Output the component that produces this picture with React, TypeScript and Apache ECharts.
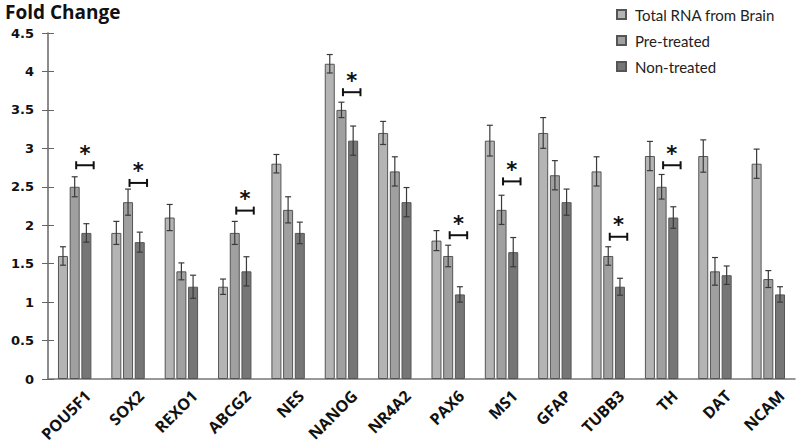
import React, { useEffect, useRef } from "react";
import * as echarts from "echarts";

const categories = ["POU5F1", "SOX2", "REXO1", "ABCG2", "NES", "NANOG", "NR4A2", "PAX6", "MS1", "GFAP", "TUBB3", "TH", "DAT", "NCAM"];
const seriesNames = ["Total RNA from Brain", "Pre-treated", "Non-treated"];
const totalRNA = [1.6, 1.9, 2.1, 1.2, 2.8, 4.1, 3.2, 1.8, 3.1, 3.2, 2.7, 2.9, 2.9, 2.8];
const preTreated = [2.5, 2.3, 1.4, 1.9, 2.2, 3.5, 2.7, 1.6, 2.2, 2.65, 1.6, 2.5, 1.4, 1.3];
const nonTreated = [1.9, 1.78, 1.2, 1.4, 1.9, 3.1, 2.3, 1.1, 1.65, 2.3, 1.2, 2.1, 1.35, 1.1];
const totalRNAErr = [0.12, 0.15, 0.17, 0.1, 0.12, 0.12, 0.15, 0.13, 0.2, 0.2, 0.19, 0.19, 0.21, 0.19];
const preTreatedErr = [0.13, 0.17, 0.11, 0.15, 0.17, 0.1, 0.19, 0.14, 0.19, 0.19, 0.12, 0.16, 0.18, 0.11];
const nonTreatedErr = [0.12, 0.13, 0.15, 0.19, 0.14, 0.19, 0.19, 0.1, 0.19, 0.17, 0.11, 0.14, 0.12, 0.1];
// significance brackets: [category index, bracket height]
const sigBrackets = [[0, 2.78], [1, 2.55], [3, 2.19], [5, 3.73], [7, 1.87], [8, 2.57], [10, 1.85], [11, 2.78]];
const yTicks = { min: 0, max: 4.5, interval: 0.5 };

const colors = ["#b4b4b4", "#a0a0a0", "#767676"];
const BAR_W = 10;
const OFFSETS = [-11.7, 0, 11.7];

export default function App() {
  const ref = useRef<HTMLDivElement>(null);
  useEffect(() => {
    if (!ref.current) return;
    const chart = echarts.init(ref.current, null, { renderer: "svg" });
    const values = [totalRNA, preTreated, nonTreated];
    const errs = [totalRNAErr, preTreatedErr, nonTreatedErr];

    const barSeries = values.map((v, i) => ({
      name: seriesNames[i],
      type: "bar",
      data: v,
      barWidth: BAR_W,
      barGap: "17%",
      itemStyle: { color: colors[i], borderColor: "#555", borderWidth: 1 },
      z: 2,
    }));

    const errSeries = errs.map((e, si) => ({
      type: "custom",
      name: "err" + si,
      data: values[si].map((v, ci) => [ci, v - e[ci], v + e[ci]]),
      z: 5,
      silent: true,
      renderItem: (params: any, api: any) => {
        const ci = api.value(0);
        const lo = api.coord([ci, api.value(1)]);
        const hi = api.coord([ci, api.value(2)]);
        const x = lo[0] + OFFSETS[si];
        const cap = 3;
        const style = { stroke: "#3a3a3a", lineWidth: 1.2 };
        return {
          type: "group",
          children: [
            { type: "line", shape: { x1: x, y1: lo[1], x2: x, y2: hi[1] }, style },
            { type: "line", shape: { x1: x - cap, y1: lo[1], x2: x + cap, y2: lo[1] }, style },
            { type: "line", shape: { x1: x - cap, y1: hi[1], x2: x + cap, y2: hi[1] }, style },
          ],
        };
      },
    }));

    const sigSeries = {
      type: "custom",
      name: "sig",
      data: sigBrackets,
      z: 6,
      silent: true,
      renderItem: (params: any, api: any) => {
        const p = api.coord([api.value(0), api.value(1)]);
        const x1 = p[0] + 1.5;
        const x2 = p[0] + 19;
        const y = p[1];
        const style = { stroke: "#111", lineWidth: 2 };
        return {
          type: "group",
          children: [
            { type: "line", shape: { x1, y1: y, x2, y2: y }, style },
            { type: "line", shape: { x1, y1: y - 4, x2: x1, y2: y + 4 }, style },
            { type: "line", shape: { x1: x2, y1: y - 4, x2, y2: y + 4 }, style },
            {
              type: "text",
              x: (x1 + x2) / 2,
              y: y - 1,
              style: {
                text: "*",
                fill: "#111",
                font: "bold 21px 'DejaVu Sans'",
                align: "center",
                verticalAlign: "bottom",
              },
            },
          ],
        };
      },
    };

    const labelSeries = {
      type: "custom",
      name: "xlabels",
      data: categories.map((c, i) => [i, 0]),
      z: 6,
      silent: true,
      clip: false,
      renderItem: (params: any, api: any) => {
        const ci = api.value(0);
        const p = api.coord([ci, 0]);
        return {
          type: "text",
          x: p[0] + 13,
          y: p[1] + 14,
          rotation: Math.PI / 4,
          style: {
            text: categories[ci],
            fill: "#111",
            font: "bold 16px 'Open Sans'",
            align: "right",
            verticalAlign: "middle",
          },
        };
      },
    };

    chart.setOption({
      animation: false,
      backgroundColor: "#fff",
      title: {
        text: "Fold Change",
        left: 0,
        top: -3,
        textStyle: { fontFamily: "Open Sans", fontWeight: "bold", fontSize: 19, color: "#111" },
      },
      legend: {
        data: seriesNames,
        orient: "vertical",
        left: 611,
        top: 2,
        itemWidth: 9,
        itemHeight: 9,
        itemGap: 11,
        icon: "rect",
        textStyle: { fontFamily: "Lato", fontSize: 15, color: "#222", padding: [0, 0, 0, 4] },
      },
      grid: { left: 48, right: 1, top: 33, bottom: 67, containLabel: false },
      xAxis: {
        type: "category",
        data: categories,
        axisLine: { lineStyle: { color: "#777", width: 1.5 } },
        axisTick: { show: false },
        axisLabel: { show: false },
      },
      yAxis: [
        {
          type: "value",
          min: yTicks.min,
          max: yTicks.max,
          interval: yTicks.interval,
          splitLine: { show: false },
          axisLine: { show: true, lineStyle: { color: "#666", width: 1.5 } },
          axisTick: { show: true, length: 6, lineStyle: { color: "#666" } },
          axisLabel: {
            margin: 14,
            fontFamily: "DejaVu Sans",
            fontWeight: "bold",
            fontSize: 13,
            color: "#111",
            formatter: (v: number) => String(v),
          },
        },
        {
          type: "value",
          min: yTicks.min,
          max: yTicks.max,
          interval: yTicks.interval,
          position: "left",
          splitLine: { show: false },
          axisLine: { show: false },
          axisTick: { show: true, inside: true, length: 6, lineStyle: { color: "#666" } },
          axisLabel: { show: false },
        },
      ],
      series: [...barSeries, ...errSeries, sigSeries, labelSeries],
    });
    return () => chart.dispose();
  }, []);
  return <div ref={ref} style={{ width: 796, height: 446, position: "absolute", left: 0, top: 0 }} />;
}
